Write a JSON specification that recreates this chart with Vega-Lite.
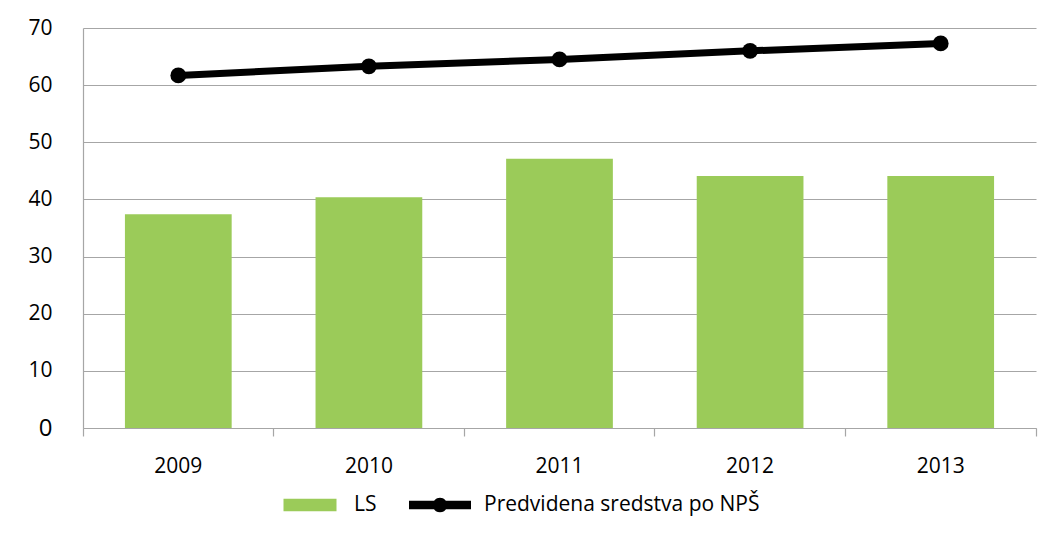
{
  "$schema": "https://vega.github.io/schema/vega-lite/v6.json",
  "width": 953,
  "height": 400,
  "autosize": {"type": "none"},
  "padding": {"left": 83, "top": 28, "right": 23, "bottom": 114},
  "background": "white",
  "config": {
    "font": "Open Sans",
    "view": {"stroke": null},
    "axis": {
      "labelFont": "Open Sans",
      "labelFontSize": 21,
      "labelColor": "#000000",
      "gridColor": "#a6a6a6",
      "gridWidth": 1.2,
      "domainColor": "#a6a6a6",
      "domainWidth": 1.2,
      "tickColor": "#a6a6a6",
      "tickWidth": 1.2,
      "title": null
    }
  },
  "data": {
    "values": [
      {"year": "2009", "ls": 37.4, "nps": 61.7},
      {"year": "2010", "ls": 40.4, "nps": 63.3},
      {"year": "2011", "ls": 47.1, "nps": 64.5},
      {"year": "2012", "ls": 44.1, "nps": 66.0},
      {"year": "2013", "ls": 44.1, "nps": 67.3}
    ]
  },
  "resolve": {"axis": {"x": "independent"}},
  "layer": [
    {
      "mark": {"type": "bar", "width": {"band": 0.56}},
      "encoding": {
        "x": {
          "field": "year",
          "type": "ordinal",
          "scale": {"paddingInner": 0, "paddingOuter": 0},
          "axis": {
            "orient": "bottom",
            "labelAngle": 0,
            "ticks": false,
            "labelPadding": 27,
            "domain": true,
            "grid": false
          }
        },
        "y": {
          "field": "ls",
          "type": "quantitative",
          "scale": {"domain": [0, 70], "nice": false},
          "axis": {
            "values": [0, 10, 20, 30, 40, 50, 60, 70],
            "ticks": false,
            "labelPadding": 31,
            "grid": true,
            "domain": true,
            "labelFontSize": {"condition": {"test": "datum.value === 0", "value": 24}, "value": 21}
          }
        },
        "color": {
          "datum": "LS",
          "scale": {
            "domain": ["LS", "Predvidena sredstva po NPŠ"],
            "range": ["#9bcb59", "#000000"]
          },
          "legend": {
            "title": null,
            "orient": "none",
            "legendX": 196,
            "legendY": 446,
            "direction": "horizontal",
            "padding": 0,
            "symbolSize": 3844,
            "labelFont": "Open Sans",
            "labelFontSize": 21,
            "labelColor": "#000000",
            "labelOffset": 13,
            "columnPadding": 32,
            "labelLimit": 600,
            "encode": {
              "symbols": {
                "update": {
                  "shape": {"signal": "datum.label === 'LS' ? 'M-0.855,-0.205H0.855V0.205H-0.855Z' : 'M-1,-0.135H1V0.135H-1Z M-0.237,0A0.237,0.237 0 1,1 0.237,0A0.237,0.237 0 1,1 -0.237,0Z'"},
                  "fill": {"signal": "datum.label === 'LS' ? '#9bcb59' : '#000000'"},
                  "stroke": {"value": "transparent"},
                  "strokeWidth": {"value": 0},
                  "opacity": {"value": 1}
                }
              }
            }
          }
        }
      }
    },
    {
      "mark": {
        "type": "line",
        "strokeWidth": 7,
        "point": {"filled": true, "size": 250, "color": "#000000", "opacity": 1}
      },
      "encoding": {
        "x": {
          "field": "year",
          "type": "ordinal",
          "axis": {
            "orient": "bottom",
            "labels": false,
            "ticks": true,
            "tickSize": 8,
            "bandPosition": 1,
            "tickExtra": true,
            "domain": false,
            "grid": false
          }
        },
        "y": {
          "field": "nps",
          "type": "quantitative",
          "axis": {
            "values": [0, 10, 20, 30, 40, 50, 60, 70],
            "ticks": false,
            "labelPadding": 31,
            "grid": true,
            "domain": true,
            "labelFontSize": {"condition": {"test": "datum.value === 0", "value": 24}, "value": 21}
          }
        },
        "color": {"datum": "Predvidena sredstva po NPŠ"}
      }
    }
  ]
}
